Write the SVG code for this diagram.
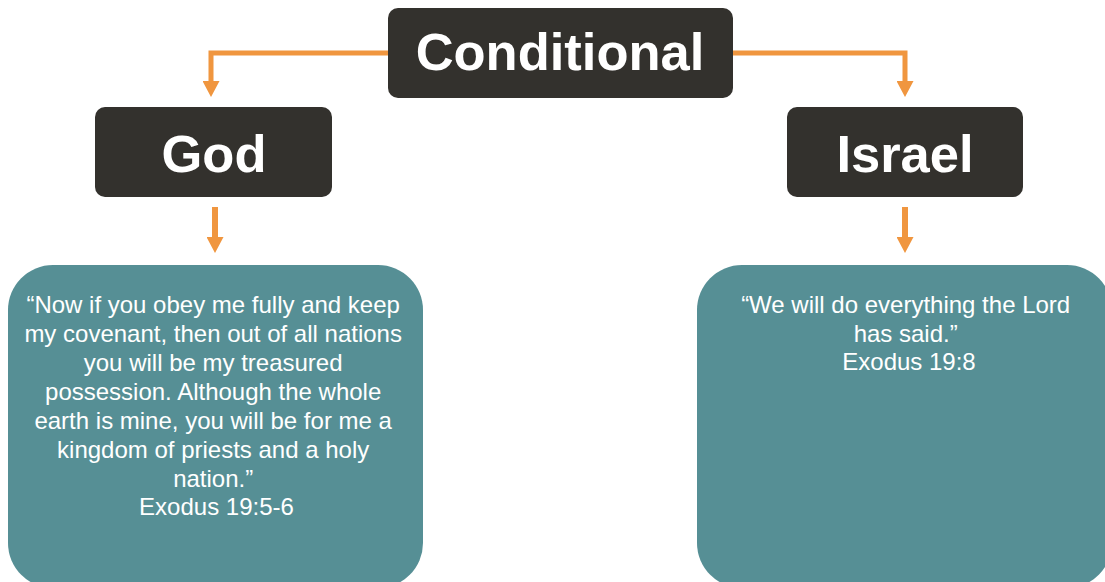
<svg xmlns="http://www.w3.org/2000/svg" width="1105" height="582" viewBox="0 0 1105 582">
<defs>
<style>
.hdr{fill:#33312d}
.hdrt{fill:#fff;font-family:"Liberation Sans",Arial,sans-serif;font-weight:bold;font-size:52.5px;text-anchor:middle}
.card{fill:#568f95}
.ct{fill:#fff;font-family:"Liberation Sans",Arial,sans-serif;font-size:24px;text-anchor:middle}
.conn{fill:none;stroke:#f0963f;stroke-width:5}
</style>
<marker id="ah" viewBox="0 0 16 17" refX="0" refY="8.5" markerWidth="16" markerHeight="17" markerUnits="userSpaceOnUse" orient="auto">
<path d="M0,0 L16,8.5 L0,17 z" fill="#f0963f"/>
</marker>
</defs>
<rect width="1105" height="582" fill="#fff"/>
<g id="connectors">
<path class="conn" d="M390,53 H211 V81" marker-end="url(#ah)"/>
<path class="conn" d="M731,53 H905 V81" marker-end="url(#ah)"/>
<path class="conn" style="stroke-width:6" d="M215,207 V237" marker-end="url(#ah)"/>
<path class="conn" style="stroke-width:6" d="M905,207 V237" marker-end="url(#ah)"/>
</g>
<g id="conditional">
<rect class="hdr" x="388" y="8" width="345" height="90" rx="10"/>
<text class="hdrt" x="560" y="70">Conditional</text>
</g>
<g id="god">
<rect class="hdr" x="95" y="107" width="237" height="90" rx="10"/>
<text class="hdrt" x="214" y="172">God</text>
</g>
<g id="israel">
<rect class="hdr" x="787" y="107" width="236" height="90" rx="10"/>
<text class="hdrt" x="905" y="172">Israel</text>
</g>
<g id="god-quote">
<rect class="card" x="8" y="265" width="415" height="323" rx="45"/>
<text class="ct" x="216.5">
<tspan x="216.5" y="313">“Now if you obey me fully and keep</tspan>
<tspan x="216.5" y="342">my covenant, then out of all nations</tspan>
<tspan x="216.5" y="371">you will be my treasured</tspan>
<tspan x="216.5" y="400">possession. Although the whole</tspan>
<tspan x="216.5" y="429">earth is mine, you will be for me a</tspan>
<tspan x="216.5" y="458">kingdom of priests and a holy</tspan>
<tspan x="216.5" y="487">nation.”</tspan>
<tspan x="216.5" y="515">Exodus 19:5-6</tspan>
</text>
</g>
<g id="israel-quote">
<rect class="card" x="697" y="265" width="415" height="323" rx="45"/>
<text class="ct" x="909">
<tspan x="909" y="313">“We will do everything the Lord</tspan>
<tspan x="909" y="342">has said.”</tspan>
<tspan x="909" y="370">Exodus 19:8</tspan>
</text>
</g>
</svg>
